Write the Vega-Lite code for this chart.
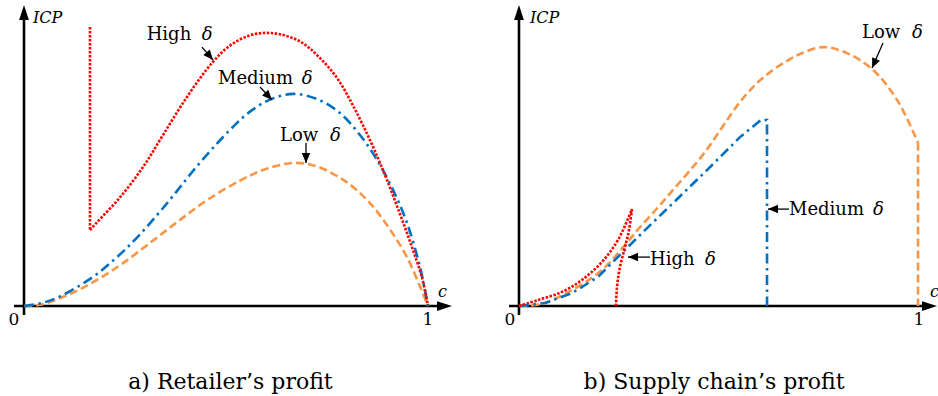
{
  "$schema": "https://vega.github.io/schema/vega-lite/v6.json",
  "background": "white",
  "padding": 0,
  "spacing": 0,
  "bounds": "flush",
  "config": {"view": {"stroke": null}},
  "datasets": {
    "linesA": [
      {"s": "High", "part": 0, "i": 0, "c": 0.1634, "icp": 0.930},
      {"s": "High", "part": 0, "i": 1, "c": 0.1634, "icp": 0.253},
      {"s": "High", "part": 1, "i": 1, "c": 0.1634, "icp": 0.253},
      {"s": "High", "part": 1, "i": 2, "c": 0.1807, "icp": 0.279},
      {"s": "High", "part": 1, "i": 3, "c": 0.2376, "icp": 0.362},
      {"s": "High", "part": 1, "i": 4, "c": 0.2946, "icp": 0.463},
      {"s": "High", "part": 1, "i": 5, "c": 0.3441, "icp": 0.570},
      {"s": "High", "part": 1, "i": 6, "c": 0.4035, "icp": 0.697},
      {"s": "High", "part": 1, "i": 7, "c": 0.4653, "icp": 0.810},
      {"s": "High", "part": 1, "i": 8, "c": 0.5099, "icp": 0.868},
      {"s": "High", "part": 1, "i": 9, "c": 0.5545, "icp": 0.900},
      {"s": "High", "part": 1, "i": 10, "c": 0.5916, "icp": 0.910},
      {"s": "High", "part": 1, "i": 11, "c": 0.6361, "icp": 0.905},
      {"s": "High", "part": 1, "i": 12, "c": 0.6856, "icp": 0.880},
      {"s": "High", "part": 1, "i": 13, "c": 0.7302, "icp": 0.830},
      {"s": "High", "part": 1, "i": 14, "c": 0.7748, "icp": 0.760},
      {"s": "High", "part": 1, "i": 15, "c": 0.8144, "icp": 0.668},
      {"s": "High", "part": 1, "i": 16, "c": 0.8564, "icp": 0.553},
      {"s": "High", "part": 1, "i": 17, "c": 0.8886, "icp": 0.453},
      {"s": "High", "part": 1, "i": 18, "c": 0.9233, "icp": 0.333},
      {"s": "High", "part": 1, "i": 19, "c": 0.9554, "icp": 0.215},
      {"s": "High", "part": 1, "i": 20, "c": 0.9851, "icp": 0.095},
      {"s": "High", "part": 1, "i": 21, "c": 1.0, "icp": 0.0},
      {"s": "Medium", "part": 0, "i": 0, "c": 0.0, "icp": 0.0},
      {"s": "Medium", "part": 0, "i": 1, "c": 0.0446, "icp": 0.010},
      {"s": "Medium", "part": 0, "i": 2, "c": 0.0891, "icp": 0.032},
      {"s": "Medium", "part": 0, "i": 3, "c": 0.1708, "icp": 0.097},
      {"s": "Medium", "part": 0, "i": 4, "c": 0.2302, "icp": 0.163},
      {"s": "Medium", "part": 0, "i": 5, "c": 0.2797, "icp": 0.228},
      {"s": "Medium", "part": 0, "i": 6, "c": 0.3292, "icp": 0.303},
      {"s": "Medium", "part": 0, "i": 7, "c": 0.3738, "icp": 0.375},
      {"s": "Medium", "part": 0, "i": 8, "c": 0.4183, "icp": 0.450},
      {"s": "Medium", "part": 0, "i": 9, "c": 0.4678, "icp": 0.527},
      {"s": "Medium", "part": 0, "i": 10, "c": 0.5173, "icp": 0.597},
      {"s": "Medium", "part": 0, "i": 11, "c": 0.5594, "icp": 0.648},
      {"s": "Medium", "part": 0, "i": 12, "c": 0.6089, "icp": 0.688},
      {"s": "Medium", "part": 0, "i": 13, "c": 0.6658, "icp": 0.707},
      {"s": "Medium", "part": 0, "i": 14, "c": 0.7252, "icp": 0.690},
      {"s": "Medium", "part": 0, "i": 15, "c": 0.7822, "icp": 0.643},
      {"s": "Medium", "part": 0, "i": 16, "c": 0.8317, "icp": 0.570},
      {"s": "Medium", "part": 0, "i": 17, "c": 0.8738, "icp": 0.487},
      {"s": "Medium", "part": 0, "i": 18, "c": 0.9134, "icp": 0.387},
      {"s": "Medium", "part": 0, "i": 19, "c": 0.9480, "icp": 0.277},
      {"s": "Medium", "part": 0, "i": 20, "c": 0.9802, "icp": 0.130},
      {"s": "Medium", "part": 0, "i": 21, "c": 1.0, "icp": 0.0},
      {"s": "Low", "part": 0, "i": 0, "c": 0.0, "icp": 0.0},
      {"s": "Low", "part": 0, "i": 1, "c": 0.0396, "icp": 0.004},
      {"s": "Low", "part": 0, "i": 2, "c": 0.1139, "icp": 0.040},
      {"s": "Low", "part": 0, "i": 3, "c": 0.1807, "icp": 0.087},
      {"s": "Low", "part": 0, "i": 4, "c": 0.2450, "icp": 0.143},
      {"s": "Low", "part": 0, "i": 5, "c": 0.3193, "icp": 0.218},
      {"s": "Low", "part": 0, "i": 6, "c": 0.3861, "icp": 0.287},
      {"s": "Low", "part": 0, "i": 7, "c": 0.4530, "icp": 0.353},
      {"s": "Low", "part": 0, "i": 8, "c": 0.5347, "icp": 0.418},
      {"s": "Low", "part": 0, "i": 9, "c": 0.5916, "icp": 0.453},
      {"s": "Low", "part": 0, "i": 10, "c": 0.6658, "icp": 0.477},
      {"s": "Low", "part": 0, "i": 11, "c": 0.7252, "icp": 0.465},
      {"s": "Low", "part": 0, "i": 12, "c": 0.7995, "icp": 0.412},
      {"s": "Low", "part": 0, "i": 13, "c": 0.8564, "icp": 0.343},
      {"s": "Low", "part": 0, "i": 14, "c": 0.9059, "icp": 0.255},
      {"s": "Low", "part": 0, "i": 15, "c": 0.9480, "icp": 0.163},
      {"s": "Low", "part": 0, "i": 16, "c": 0.9802, "icp": 0.065},
      {"s": "Low", "part": 0, "i": 17, "c": 1.0, "icp": 0.0}
    ],
    "linesB": [
      {"s": "High", "part": 0, "i": 0, "c": 0.0, "icp": 0.0},
      {"s": "High", "part": 0, "i": 1, "c": 0.0476, "icp": 0.020},
      {"s": "High", "part": 0, "i": 2, "c": 0.1078, "icp": 0.047},
      {"s": "High", "part": 0, "i": 3, "c": 0.1579, "icp": 0.087},
      {"s": "High", "part": 0, "i": 4, "c": 0.2080, "icp": 0.147},
      {"s": "High", "part": 0, "i": 5, "c": 0.2481, "icp": 0.220},
      {"s": "High", "part": 0, "i": 6, "c": 0.2832, "icp": 0.323},
      {"s": "High", "part": 1, "i": 6, "c": 0.2832, "icp": 0.323},
      {"s": "High", "part": 1, "i": 7, "c": 0.2757, "icp": 0.253},
      {"s": "High", "part": 1, "i": 8, "c": 0.2657, "icp": 0.197},
      {"s": "High", "part": 1, "i": 9, "c": 0.2531, "icp": 0.130},
      {"s": "High", "part": 1, "i": 10, "c": 0.2456, "icp": 0.063},
      {"s": "High", "part": 1, "i": 11, "c": 0.2431, "icp": 0.0},
      {"s": "Medium", "part": 0, "i": 0, "c": 0.0, "icp": 0.0},
      {"s": "Medium", "part": 0, "i": 1, "c": 0.0652, "icp": 0.010},
      {"s": "Medium", "part": 0, "i": 2, "c": 0.1328, "icp": 0.043},
      {"s": "Medium", "part": 0, "i": 3, "c": 0.1980, "icp": 0.097},
      {"s": "Medium", "part": 0, "i": 4, "c": 0.2581, "icp": 0.177},
      {"s": "Medium", "part": 0, "i": 5, "c": 0.3158, "icp": 0.253},
      {"s": "Medium", "part": 0, "i": 6, "c": 0.3860, "icp": 0.343},
      {"s": "Medium", "part": 0, "i": 7, "c": 0.4712, "icp": 0.453},
      {"s": "Medium", "part": 0, "i": 8, "c": 0.5539, "icp": 0.563},
      {"s": "Medium", "part": 0, "i": 9, "c": 0.6065, "icp": 0.620},
      {"s": "Medium", "part": 0, "i": 10, "c": 0.6216, "icp": 0.620},
      {"s": "Medium", "part": 0, "i": 11, "c": 0.6216, "icp": 0.0},
      {"s": "Low", "part": 0, "i": 0, "c": 0.0, "icp": 0.0},
      {"s": "Low", "part": 0, "i": 1, "c": 0.0576, "icp": 0.007},
      {"s": "Low", "part": 0, "i": 2, "c": 0.1328, "icp": 0.053},
      {"s": "Low", "part": 0, "i": 3, "c": 0.2080, "icp": 0.120},
      {"s": "Low", "part": 0, "i": 4, "c": 0.2732, "icp": 0.215},
      {"s": "Low", "part": 0, "i": 5, "c": 0.3033, "icp": 0.263},
      {"s": "Low", "part": 0, "i": 6, "c": 0.3459, "icp": 0.325},
      {"s": "Low", "part": 0, "i": 7, "c": 0.3860, "icp": 0.387},
      {"s": "Low", "part": 0, "i": 8, "c": 0.4286, "icp": 0.452},
      {"s": "Low", "part": 0, "i": 9, "c": 0.4712, "icp": 0.522},
      {"s": "Low", "part": 0, "i": 10, "c": 0.5113, "icp": 0.600},
      {"s": "Low", "part": 0, "i": 11, "c": 0.5539, "icp": 0.680},
      {"s": "Low", "part": 0, "i": 12, "c": 0.5965, "icp": 0.743},
      {"s": "Low", "part": 0, "i": 13, "c": 0.6366, "icp": 0.787},
      {"s": "Low", "part": 0, "i": 14, "c": 0.6717, "icp": 0.817},
      {"s": "Low", "part": 0, "i": 15, "c": 0.7043, "icp": 0.840},
      {"s": "Low", "part": 0, "i": 16, "c": 0.7619, "icp": 0.863},
      {"s": "Low", "part": 0, "i": 17, "c": 0.8221, "icp": 0.843},
      {"s": "Low", "part": 0, "i": 18, "c": 0.8872, "icp": 0.787},
      {"s": "Low", "part": 0, "i": 19, "c": 0.9474, "icp": 0.687},
      {"s": "Low", "part": 0, "i": 20, "c": 1.0, "icp": 0.545},
      {"s": "Low", "part": 1, "i": 20, "c": 1.0, "icp": 0.545},
      {"s": "Low", "part": 1, "i": 21, "c": 1.0, "icp": 0.0}
    ],
    "axisRulesA": [
      {"c": -0.0248, "icp": 0, "c2": 1.045, "icp2": 0},
      {"c": 0, "icp": -0.03, "c2": 0, "icp2": 0.985}
    ],
    "axisHeadsA": [
      {"c": 1.0594, "icp": 0, "angle": 90},
      {"c": 0, "icp": 1.003, "angle": 0}
    ],
    "axisRulesB": [
      {"c": -0.025, "icp": 0, "c2": 1.03, "icp2": 0},
      {"c": 0, "icp": -0.03, "c2": 0, "icp2": 0.985}
    ],
    "axisHeadsB": [
      {"c": 1.0476, "icp": 0, "angle": 90},
      {"c": 0, "icp": 1.003, "angle": 0}
    ],
    "arrowsA": [
      {"label": "High", "c": 0.4678, "icp": 0.820, "c2": 0.4406, "icp2": 0.863, "angle": 140},
      {"label": "Medium", "c": 0.6139, "icp": 0.687, "c2": 0.5842, "icp2": 0.730, "angle": 137},
      {"label": "Low", "c": 0.6980, "icp": 0.477, "c2": 0.6980, "icp2": 0.543, "angle": 180}
    ],
    "arrowsB": [
      {"label": "High", "c": 0.2732, "icp": 0.163, "c2": 0.3283, "icp2": 0.163, "angle": 270},
      {"label": "Medium", "c": 0.6241, "icp": 0.323, "c2": 0.6767, "icp2": 0.323, "angle": 270},
      {"label": "Low", "c": 0.8847, "icp": 0.793, "c2": 0.9123, "icp2": 0.877, "angle": 204}
    ],
    "textA": [
      {"kind": "lab", "text": "High", "c": 0.3036, "icp": 0.887},
      {"kind": "del", "text": "δ", "c": 0.4398, "icp": 0.887},
      {"kind": "lab", "text": "Medium", "c": 0.4802, "icp": 0.741},
      {"kind": "del", "text": "δ", "c": 0.6874, "icp": 0.741},
      {"kind": "lab", "text": "Low", "c": 0.6337, "icp": 0.551},
      {"kind": "del", "text": "δ", "c": 0.7574, "icp": 0.551},
      {"kind": "var", "text": "ICP", "c": 0.0223, "icp": 0.943},
      {"kind": "var", "text": "c", "c": 1.0248, "icp": 0.03},
      {"kind": "tick", "text": "0", "c": -0.0248, "icp": -0.063},
      {"kind": "tick", "text": "1", "c": 1.0, "icp": -0.063},
      {"kind": "cap", "text": "a) Retailer’s profit", "c": 0.511, "icp": -0.277}
    ],
    "textB": [
      {"kind": "lab", "text": "High", "c": 0.3283, "icp": 0.137},
      {"kind": "del", "text": "δ", "c": 0.4662, "icp": 0.137},
      {"kind": "lab", "text": "Medium", "c": 0.6767, "icp": 0.303},
      {"kind": "del", "text": "δ", "c": 0.8872, "icp": 0.303},
      {"kind": "lab", "text": "Low", "c": 0.8596, "icp": 0.893},
      {"kind": "del", "text": "δ", "c": 0.9850, "icp": 0.893},
      {"kind": "var", "text": "ICP", "c": 0.0276, "icp": 0.943},
      {"kind": "var", "text": "c", "c": 1.03, "icp": 0.03},
      {"kind": "tick", "text": "0", "c": -0.0226, "icp": -0.063},
      {"kind": "tick", "text": "1", "c": 1.0025, "icp": -0.063},
      {"kind": "cap", "text": "b) Supply chain’s profit", "c": 0.489, "icp": -0.277}
    ]
  },
  "hconcat": [
    {
      "width": 465,
      "height": 396,
      "encoding": {
        "x": {"field": "c", "type": "quantitative", "axis": null, "scale": {"domain": [-0.0594, 1.0916], "nice": false, "zero": false}},
        "y": {"field": "icp", "type": "quantitative", "axis": null, "scale": {"domain": [-0.3, 1.02], "nice": false, "zero": false}}
      },
      "layer": [
        {"data": {"name": "axisRulesA"}, "mark": {"type": "rule", "color": "black", "strokeWidth": 2.6}, "encoding": {"x2": {"field": "c2"}, "y2": {"field": "icp2"}}},
        {"data": {"name": "axisHeadsA"}, "mark": {"type": "point", "shape": "M0,0L0.65,2L-0.65,2Z", "size": 225, "filled": true, "opacity": 1, "color": "black", "strokeWidth": 0}, "encoding": {"angle": {"field": "angle", "type": "quantitative", "scale": null}}},
        {"data": {"name": "linesA"}, "transform": [{"filter": "datum.s === 'Low'"}], "mark": {"type": "line", "color": "#F79646", "strokeWidth": 2.6, "strokeDash": [8, 4], "interpolate": "catmull-rom"}, "encoding": {"order": {"field": "i", "type": "quantitative"}, "detail": {"field": "part"}}},
        {"data": {"name": "linesA"}, "transform": [{"filter": "datum.s === 'Medium'"}], "mark": {"type": "line", "color": "#0070C0", "strokeWidth": 2.6, "strokeDash": [10, 4.5, 2.5, 4.5], "interpolate": "catmull-rom"}, "encoding": {"order": {"field": "i", "type": "quantitative"}, "detail": {"field": "part"}}},
        {"data": {"name": "linesA"}, "transform": [{"filter": "datum.s === 'High'"}], "mark": {"type": "line", "color": "#FF0000", "strokeWidth": 2.6, "strokeDash": [2.5, 1.5], "interpolate": "catmull-rom"}, "encoding": {"order": {"field": "i", "type": "quantitative"}, "detail": {"field": "part"}}},
        {"data": {"name": "arrowsA"}, "mark": {"type": "rule", "color": "black", "strokeWidth": 1.3}, "encoding": {"x2": {"field": "c2"}, "y2": {"field": "icp2"}}},
        {"data": {"name": "arrowsA"}, "mark": {"type": "point", "shape": "M0,0L0.85,2L-0.85,2Z", "size": 100, "filled": true, "opacity": 1, "color": "black", "strokeWidth": 0}, "encoding": {"angle": {"field": "angle", "type": "quantitative", "scale": null}}},
        {"data": {"name": "textA"}, "transform": [{"filter": "datum.kind === 'lab'"}], "mark": {"type": "text", "font": "DejaVu Serif", "fontSize": 18, "align": "left", "baseline": "alphabetic", "color": "black"}, "encoding": {"text": {"field": "text"}}},
        {"data": {"name": "textA"}, "transform": [{"filter": "datum.kind === 'del'"}], "mark": {"type": "text", "font": "DejaVu Serif", "fontStyle": "italic", "fontSize": 18, "align": "left", "baseline": "alphabetic", "color": "black"}, "encoding": {"text": {"field": "text"}}},
        {"data": {"name": "textA"}, "transform": [{"filter": "datum.kind === 'var'"}], "mark": {"type": "text", "font": "DejaVu Serif", "fontStyle": "italic", "fontSize": 16, "align": "left", "baseline": "alphabetic", "color": "black"}, "encoding": {"text": {"field": "text"}}},
        {"data": {"name": "textA"}, "transform": [{"filter": "datum.kind === 'tick'"}], "mark": {"type": "text", "font": "DejaVu Serif", "fontSize": 17, "align": "center", "baseline": "alphabetic", "color": "black"}, "encoding": {"text": {"field": "text"}}},
        {"data": {"name": "textA"}, "transform": [{"filter": "datum.kind === 'cap'"}], "mark": {"type": "text", "font": "DejaVu Serif", "fontSize": 22, "align": "center", "baseline": "alphabetic", "color": "black"}, "encoding": {"text": {"field": "text"}}}
      ]
    },
    {
      "width": 473,
      "height": 396,
      "encoding": {
        "x": {"field": "c", "type": "quantitative", "axis": null, "scale": {"domain": [-0.1353, 1.0501], "nice": false, "zero": false}},
        "y": {"field": "icp", "type": "quantitative", "axis": null, "scale": {"domain": [-0.3, 1.02], "nice": false, "zero": false}}
      },
      "layer": [
        {"data": {"name": "axisRulesB"}, "mark": {"type": "rule", "color": "black", "strokeWidth": 2.6}, "encoding": {"x2": {"field": "c2"}, "y2": {"field": "icp2"}}},
        {"data": {"name": "axisHeadsB"}, "mark": {"type": "point", "shape": "M0,0L0.65,2L-0.65,2Z", "size": 225, "filled": true, "opacity": 1, "color": "black", "strokeWidth": 0}, "encoding": {"angle": {"field": "angle", "type": "quantitative", "scale": null}}},
        {"data": {"name": "linesB"}, "transform": [{"filter": "datum.s === 'Low'"}], "mark": {"type": "line", "color": "#F79646", "strokeWidth": 2.6, "strokeDash": [8, 4], "interpolate": "catmull-rom"}, "encoding": {"order": {"field": "i", "type": "quantitative"}, "detail": {"field": "part"}}},
        {"data": {"name": "linesB"}, "transform": [{"filter": "datum.s === 'Medium'"}], "mark": {"type": "line", "color": "#0070C0", "strokeWidth": 2.6, "strokeDash": [10, 4.5, 2.5, 4.5]}, "encoding": {"order": {"field": "i", "type": "quantitative"}, "detail": {"field": "part"}}},
        {"data": {"name": "linesB"}, "transform": [{"filter": "datum.s === 'High'"}], "mark": {"type": "line", "color": "#FF0000", "strokeWidth": 2.6, "strokeDash": [2.5, 1.5], "interpolate": "catmull-rom"}, "encoding": {"order": {"field": "i", "type": "quantitative"}, "detail": {"field": "part"}}},
        {"data": {"name": "arrowsB"}, "mark": {"type": "rule", "color": "black", "strokeWidth": 1.3}, "encoding": {"x2": {"field": "c2"}, "y2": {"field": "icp2"}}},
        {"data": {"name": "arrowsB"}, "mark": {"type": "point", "shape": "M0,0L0.85,2L-0.85,2Z", "size": 100, "filled": true, "opacity": 1, "color": "black", "strokeWidth": 0}, "encoding": {"angle": {"field": "angle", "type": "quantitative", "scale": null}}},
        {"data": {"name": "textB"}, "transform": [{"filter": "datum.kind === 'lab'"}], "mark": {"type": "text", "font": "DejaVu Serif", "fontSize": 18, "align": "left", "baseline": "alphabetic", "color": "black"}, "encoding": {"text": {"field": "text"}}},
        {"data": {"name": "textB"}, "transform": [{"filter": "datum.kind === 'del'"}], "mark": {"type": "text", "font": "DejaVu Serif", "fontStyle": "italic", "fontSize": 18, "align": "left", "baseline": "alphabetic", "color": "black"}, "encoding": {"text": {"field": "text"}}},
        {"data": {"name": "textB"}, "transform": [{"filter": "datum.kind === 'var'"}], "mark": {"type": "text", "font": "DejaVu Serif", "fontStyle": "italic", "fontSize": 16, "align": "left", "baseline": "alphabetic", "color": "black"}, "encoding": {"text": {"field": "text"}}},
        {"data": {"name": "textB"}, "transform": [{"filter": "datum.kind === 'tick'"}], "mark": {"type": "text", "font": "DejaVu Serif", "fontSize": 17, "align": "center", "baseline": "alphabetic", "color": "black"}, "encoding": {"text": {"field": "text"}}},
        {"data": {"name": "textB"}, "transform": [{"filter": "datum.kind === 'cap'"}], "mark": {"type": "text", "font": "DejaVu Serif", "fontSize": 22, "align": "center", "baseline": "alphabetic", "color": "black"}, "encoding": {"text": {"field": "text"}}}
      ]
    }
  ]
}
